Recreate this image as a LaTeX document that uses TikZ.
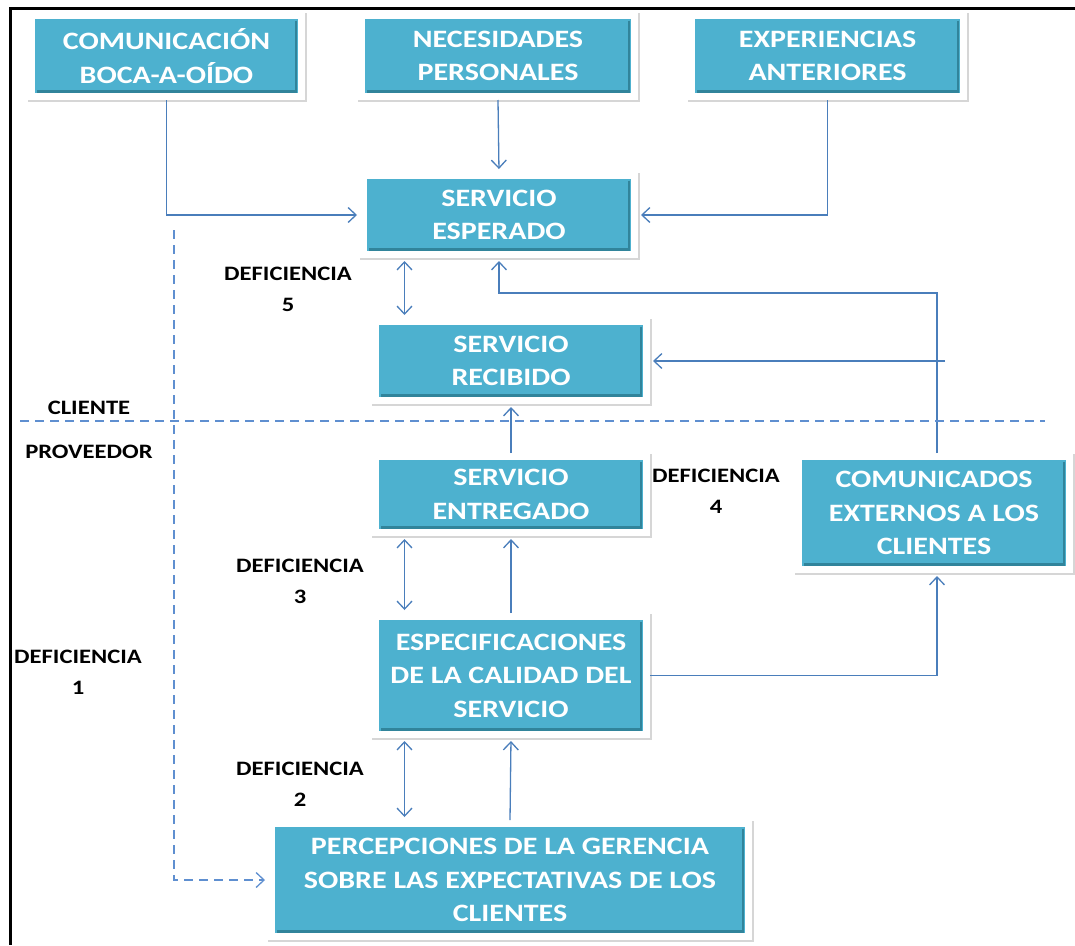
\documentclass[tikz,border=0pt]{standalone}
\usepackage{fontspec}
\setmainfont{Carlito}
\newfontfamily\boxfont[FakeStretch=1.2]{Carlito}
\usetikzlibrary{arrows.meta,calc}
\definecolor{boxcyan}{HTML}{4DB1CF}
\definecolor{boxdark}{HTML}{31849B}
\definecolor{arrblue}{HTML}{4A7EBB}
\definecolor{dashblue}{HTML}{5F8FD0}
\tikzset{
  box/.style={
    preaction={draw=black!16, line width=8.5pt, transform canvas={xshift=1pt,yshift=-1.5pt}},
    fill=boxcyan, draw=white, line width=7pt, inner sep=0pt,
    text=white, align=center,
    font=\boxfont\bfseries\fontsize{25}{33.5}\selectfont,
    path picture={\draw[boxdark, line width=2.5pt]
      ([xshift=-5.5pt,yshift=-5pt]path picture bounding box.north east) --
      ([xshift=-5.5pt,yshift=5pt]path picture bounding box.south east) --
      ([xshift=5pt,yshift=5pt]path picture bounding box.south west);}
  },
  lbl/.style={align=center, inner sep=0pt, font=\boxfont\bfseries\fontsize{20.5}{31}\selectfont},
  arr/.style={draw=arrblue, line width=1.3pt, -{Straight Barb[length=8pt,width=15pt]}, shorten >=3pt},
  darr/.style={draw=arrblue, line width=1.3pt, {Straight Barb[length=8pt,width=15pt]}-{Straight Barb[length=8pt,width=15pt]}, shorten >=3pt, shorten <=3pt},
  dashline/.style={draw=dashblue, line width=1.3pt, dash pattern=on 9pt off 6pt},
}
\begin{document}
\begin{tikzpicture}[x=1pt,y=-1pt]
\useasboundingbox (0,0) rectangle (1075,945);
% frame
\coordinate (ftl) at (10,8);
\coordinate (ftr) at (1075,8);
\coordinate (fbl) at (10,945);
\draw[black, line width=3pt] (ftr) -- (ftl) -- (fbl);

% boxes
\node[box, minimum width=270pt, minimum height=81pt] (c1) at (166.5,56) {COMUNICACIÓN\\BOCA-A-OÍDO};
\node[box, minimum width=273pt, minimum height=81pt] (c2) at (498,56) {NECESIDADES\\PERSONALES};
\node[box, minimum width=272pt, minimum height=81pt] (c3) at (827.5,56) {EXPERIENCIAS\\ANTERIORES};
\node[box, minimum width=271pt, minimum height=79pt] (esp) at (499,215) {SERVICIO\\ESPERADO};
\node[box, minimum width=271pt, minimum height=79pt] (rec) at (511,361) {SERVICIO\\RECIBIDO};
\node[box, minimum width=271pt, minimum height=76pt] (ent) at (511,494.5) {SERVICIO\\ENTREGADO};
\node[box, minimum width=271pt, minimum height=113pt] (com) at (934,513) {COMUNICADOS\\EXTERNOS A LOS\\CLIENTES};
\node[box, minimum width=271pt, minimum height=118pt] (spec) at (511,675.5) {ESPECIFICACIONES\\DE LA CALIDAD DEL\\SERVICIO};
\node[box, minimum width=477pt, minimum height=113pt] (perc) at (510,880) {PERCEPCIONES DE LA GERENCIA\\SOBRE LAS EXPECTATIVAS DE LOS\\CLIENTES};

% labels
\node[lbl] (d5) at (288,289) {DEFICIENCIA\\5};
\node[lbl] (d4) at (716,491) {DEFICIENCIA\\4};
\node[lbl] (d3) at (300,581) {DEFICIENCIA\\3};
\node[lbl] (d2) at (300,784) {DEFICIENCIA\\2};
\node[lbl] (d1) at (78,672) {DEFICIENCIA\\1};
\node[lbl] (cli) at (89,408) {CLIENTE};
\node[lbl] (pro) at (89,452) {PROVEEDOR};

% connectors
\draw[arr] (c1.south) |- (esp.west);
\draw[arr] (c2.south) -- (esp.north);
\draw[arr] (c3.south) |- (esp.east);
\draw[darr] ([xshift=44.5pt]esp.south west) -- ([xshift=44.5pt]esp.south west |- rec.north);
\coordinate (turn) at (937,293);
\draw[arr] ([xshift=3pt]com.north) -- (turn) -| (esp.south);
\coordinate (rin) at (945,361);
\draw[arr] (rin) -- (rec.east);
\draw[arr] (ent.north) -- (rec.south);
\draw[darr] ([xshift=32.5pt]ent.south west) -- ([xshift=32.5pt]ent.south west |- spec.north);
\draw[arr] (spec.north) -- (ent.south);
\draw[arr] (spec.east) -| ([xshift=3pt]com.south);
\draw[darr] ([xshift=32.5pt]spec.south west) -- ([xshift=32.5pt]spec.south west |- perc.north);
\draw[arr] (perc.north) -- (spec.south);

% divider and dashed gap-1 connector
\coordinate (dl) at (20,421);
\coordinate (dr) at (1045,421);
\draw[dashline] (dl) -- (dr);
\coordinate (g1) at (174,230);
\draw[dashline, -{Straight Barb[length=8pt,width=15pt]}, shorten >=3pt] (g1) |- (perc.west);
\end{tikzpicture}
\end{document}
